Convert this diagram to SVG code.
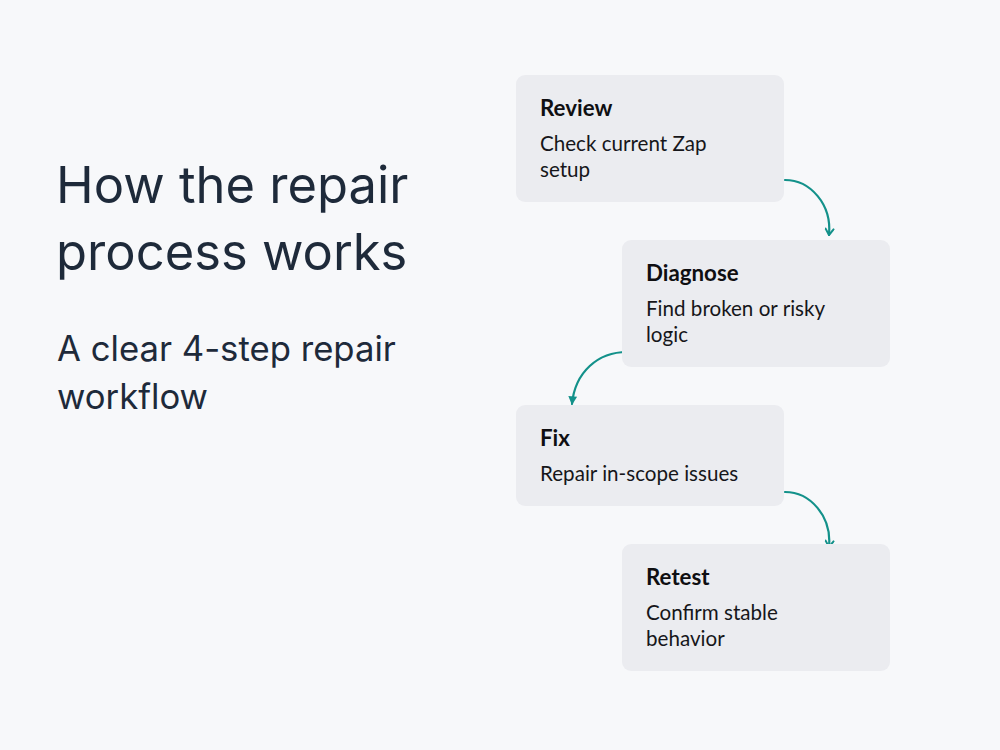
<svg xmlns="http://www.w3.org/2000/svg" width="1000" height="750" viewBox="0 0 1000 750">
<style>
.box{fill:#ebecf0}
.h{font-family:Lato,"Noto Sans",sans-serif;font-weight:700;font-size:22.3px;fill:#0f0f12}
.d{font-family:Lato,"Noto Sans",sans-serif;font-size:20.6px;fill:#16161a}
.title{font-family:Inter,"Liberation Sans",sans-serif;font-size:50.7px;fill:#1e2a3a}
.sub{font-family:Inter,"Liberation Sans",sans-serif;font-size:34.7px;fill:#1e2a3a}
.conn{fill:none;stroke:#13918a;stroke-width:2.2;stroke-linecap:round}
</style>
<defs>
<marker id="v" viewBox="0 0 10 10" refX="8" refY="5" markerWidth="10" markerHeight="10" markerUnits="userSpaceOnUse" orient="auto">
<path d="M2,1 L8,5 L2,9" fill="none" stroke="#13918a" stroke-width="2" stroke-linecap="round" stroke-linejoin="round"/>
</marker>
<marker id="t" viewBox="0 0 10 10" refX="8" refY="5" markerWidth="11" markerHeight="11" markerUnits="userSpaceOnUse" orient="auto">
<path d="M1,1 L9,5 L1,9 Z" fill="#13918a"/>
</marker>
</defs>
<rect width="1000" height="750" fill="#f7f8fa"/>
<g id="title">
<text class="title" x="56" y="203">How the repair</text>
<text class="title" x="56" y="270">process works</text>
<text class="sub" x="57" y="361">A clear 4-step repair</text>
<text class="sub" x="57" y="409">workflow</text>
</g>
<g id="connectors">
<path class="conn" d="M785,180 C810,180 832,204 829,235" marker-end="url(#v)"/>
<path class="conn" d="M627,352 C598,352 575,372 572,404" marker-end="url(#t)"/>
<path class="conn" d="M785,492 C810,492 832,516 829,547" marker-end="url(#v)"/>
</g>
<g id="review">
<rect class="box" x="516" y="75" width="268" height="127" rx="9"/>
<text class="h" x="540" y="116">Review</text>
<text class="d" x="540" y="151">Check current Zap</text>
<text class="d" x="540" y="177">setup</text>
</g>
<g id="diagnose">
<rect class="box" x="622" y="240" width="268" height="127" rx="9"/>
<text class="h" x="646" y="281">Diagnose</text>
<text class="d" x="646" y="316">Find broken or risky</text>
<text class="d" x="646" y="342">logic</text>
</g>
<g id="fix">
<rect class="box" x="516" y="405" width="268" height="101" rx="9"/>
<text class="h" x="540" y="446">Fix</text>
<text class="d" x="540" y="481">Repair in-scope issues</text>
</g>
<g id="retest">
<rect class="box" x="622" y="544" width="268" height="127" rx="9"/>
<text class="h" x="646" y="585">Retest</text>
<text class="d" x="646" y="620">Confirm stable</text>
<text class="d" x="646" y="646">behavior</text>
</g>
</svg>
